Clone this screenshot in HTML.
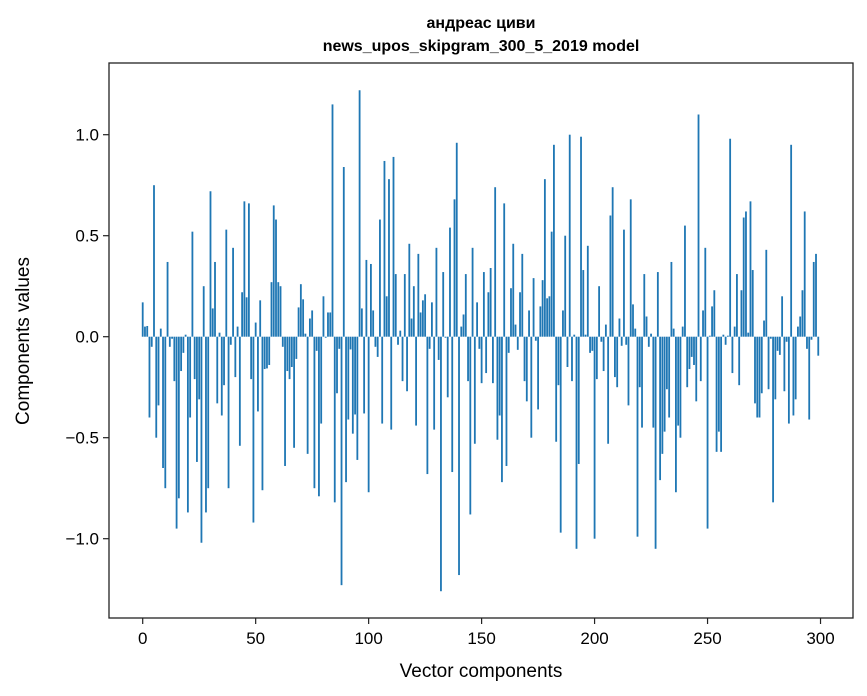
<!DOCTYPE html>
<html><head><meta charset="utf-8"><style>
html,body{margin:0;padding:0;background:#fff;}
svg{display:block;font-family:"Liberation Sans","DejaVu Sans",sans-serif;}
</style></head><body>
<svg id="chart" width="867" height="696" viewBox="0 0 867 696" xmlns="http://www.w3.org/2000/svg">
<rect x="0" y="0" width="867" height="696" fill="#fff"/>
<text x="481" y="28" text-anchor="middle" font-size="16" font-weight="bold">андреас циви</text>
<text x="481" y="51" text-anchor="middle" font-size="16" font-weight="bold">news_upos_skipgram_300_5_2019 model</text>
<g id="bars"></g>
<g id="axes"></g>
<text x="481" y="677" text-anchor="middle" font-size="19">Vector components</text>
<text transform="translate(29,341) rotate(-90)" text-anchor="middle" font-size="19">Components values</text>
</svg>
<script>
const values = [
0.17,0.05,0.053,-0.40,-0.05,0.75,-0.50,-0.34,0.04,-0.65,
-0.75,0.37,-0.05,-0.01,-0.22,-0.95,-0.80,-0.17,-0.08,0.01,
-0.87,-0.40,0.52,-0.21,-0.62,-0.31,-1.02,0.25,-0.87,-0.75,
0.72,0.14,0.37,-0.33,0.02,-0.39,-0.24,0.53,-0.75,-0.04,
0.44,-0.20,0.05,-0.54,0.22,0.67,0.195,0.66,-0.21,-0.92,
0.07,-0.37,0.18,-0.76,-0.16,-0.157,-0.14,0.27,0.65,0.58,
0.27,0.25,-0.05,-0.64,-0.17,-0.21,-0.15,-0.55,-0.11,0.145,
0.26,0.185,0.015,-0.58,0.09,0.13,-0.75,-0.07,-0.79,-0.43,
0.20,-0.005,0.12,0.12,1.15,-0.82,-0.28,-0.06,-1.23,0.84,
-0.72,-0.41,-0.063,-0.48,-0.385,-0.61,1.22,0.14,-0.38,0.38,
-0.77,0.36,0.13,-0.05,-0.10,0.58,-0.43,0.87,0.20,0.78,
-0.46,0.89,0.31,-0.04,0.03,-0.22,0.31,-0.27,0.46,0.09,
0.25,-0.44,0.41,0.12,0.18,0.21,-0.68,-0.06,0.17,-0.46,
0.44,-0.115,-1.26,0.32,-0.005,-0.30,0.54,-0.67,0.68,0.96,
-1.18,0.05,0.11,0.31,-0.22,-0.88,0.44,-0.53,0.17,-0.06,
-0.23,0.32,-0.18,0.22,0.34,-0.23,0.74,-0.51,-0.39,-0.72,
0.66,-0.64,-0.08,0.24,0.46,0.06,-0.065,0.22,0.41,-0.22,
-0.32,0.13,-0.50,0.29,-0.02,-0.36,0.15,0.28,0.78,0.19,
0.20,0.52,0.95,-0.52,-0.24,-0.97,0.13,0.50,-0.15,1.00,
-0.22,0.01,-1.05,-0.63,0.99,0.33,0.01,0.45,-0.08,-0.07,
-1.00,-0.21,0.25,-0.025,-0.17,0.06,-0.53,0.60,0.74,-0.20,
-0.25,0.09,-0.045,0.53,-0.04,-0.34,0.68,0.16,0.04,-0.99,
-0.25,-0.45,0.31,0.10,-0.05,0.015,-0.45,-1.05,0.32,-0.71,
-0.58,-0.47,-0.26,-0.40,0.37,0.04,-0.77,-0.44,-0.50,0.05,
0.55,-0.25,-0.16,-0.10,-0.14,-0.32,1.10,-0.22,0.13,0.44,
-0.95,0.005,0.15,0.23,-0.57,-0.47,-0.57,0.01,-0.04,0.005,
0.98,-0.18,0.05,0.31,-0.24,0.23,0.59,0.62,0.02,0.67,
0.33,-0.33,-0.40,-0.40,-0.28,0.08,0.43,-0.26,-0.01,-0.82,
-0.31,-0.07,-0.09,0.20,-0.27,-0.025,-0.43,0.95,-0.39,-0.31,
0.05,0.10,0.23,0.62,-0.06,-0.41,-0.015,0.37,0.41,-0.094
];
const xTicks = [0,50,100,150,200,250,300];
const yTicks = [-1.0,-0.5,0.0,0.5,1.0];
const yTickLabels = ["\u22121.0","\u22120.5","0.0","0.5","1.0"];

const NS = "http://www.w3.org/2000/svg";
const L = 109, R = 853, T = 63, B = 618;
function xs(v){ return 142.7 + v * 2.2594; }
function ys(v){ return 336.7 - v * 202; }
const bars = document.getElementById('bars');
values.forEach((v, i) => {
  const r = document.createElementNS(NS, 'rect');
  const x0 = xs(i - 0.4), x1 = xs(i + 0.4);
  const y0 = Math.min(ys(v), ys(0)), h = Math.abs(ys(v) - ys(0));
  r.setAttribute('x', x0.toFixed(2));
  r.setAttribute('y', y0.toFixed(2));
  r.setAttribute('width', (x1 - x0).toFixed(2));
  r.setAttribute('height', h.toFixed(2));
  r.setAttribute('fill', '#1f77b4');
  
  
  bars.appendChild(r);
});
const axes = document.getElementById('axes');
const frame = document.createElementNS(NS, 'rect');
frame.setAttribute('x', L); frame.setAttribute('y', T);
frame.setAttribute('width', R - L); frame.setAttribute('height', B - T);
frame.setAttribute('fill', 'none'); frame.setAttribute('stroke', '#222'); frame.setAttribute('stroke-width', '1.3');


axes.appendChild(frame);
xTicks.forEach(t => {
  const x = xs(t);
  const ln = document.createElementNS(NS, 'line');
  ln.setAttribute('x1', x); ln.setAttribute('x2', x); ln.setAttribute('y1', B); ln.setAttribute('y2', B + 6);
  ln.setAttribute('stroke', '#222'); ln.setAttribute('stroke-width', '1.2');
  
  
  axes.appendChild(ln);
  const tx = document.createElementNS(NS, 'text');
  tx.setAttribute('x', x); tx.setAttribute('y', B + 26);
  tx.setAttribute('text-anchor', 'middle'); tx.setAttribute('font-size', '17');
  tx.textContent = String(t);
  
  
  axes.appendChild(tx);
});
yTicks.forEach((t, i) => {
  const y = ys(t);
  const ln = document.createElementNS(NS, 'line');
  ln.setAttribute('x1', L - 6); ln.setAttribute('x2', L); ln.setAttribute('y1', y); ln.setAttribute('y2', y);
  ln.setAttribute('stroke', '#222'); ln.setAttribute('stroke-width', '1.2');
  
  
  axes.appendChild(ln);
  const tx = document.createElementNS(NS, 'text');
  tx.setAttribute('x', L - 10); tx.setAttribute('y', y + 6);
  tx.setAttribute('text-anchor', 'end'); tx.setAttribute('font-size', '17');
  tx.textContent = yTickLabels[i];
  
  
  axes.appendChild(tx);
});
</script>
</body></html>
